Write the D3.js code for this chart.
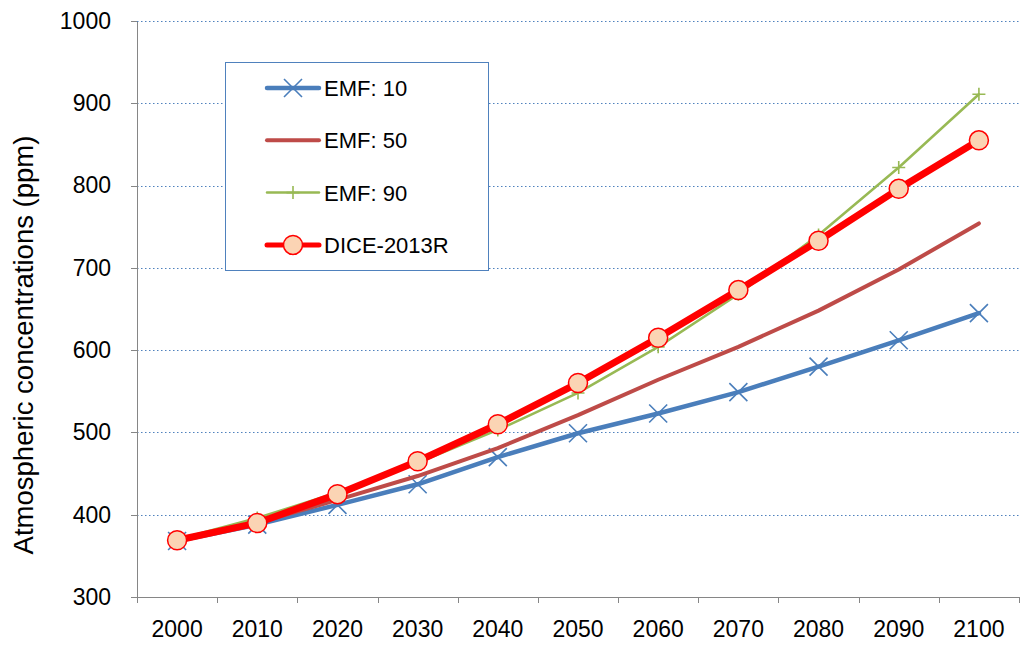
<!DOCTYPE html>
<html>
<meta charset="utf-8">
<style>
    body { margin: 0; background: #fff; }
    text { font-family: "Liberation Sans", Arial, sans-serif; fill: #000; }
    .grid line { stroke: #4f81bd; stroke-width: 1; stroke-dasharray: 1.5,2.5; }
    .axis path, .axis line { stroke: #868686; shape-rendering: crispEdges; }
</style>
<body>
<script src="https://cdn.jsdelivr.net/npm/d3@7"></script>
<div id="chart"></div>
<script>
    // data
    var years = ["2000", "2010", "2020", "2030", "2040", "2050", "2060", "2070", "2080", "2090", "2100"];
    var emf10 = [368, 388, 412, 437, 470, 499, 523, 549, 580, 612, 645];
    var emf50 = [370, 390, 418, 447, 481, 521, 564, 604, 648, 698, 754];
    var emf90 = [370, 396, 427, 463, 503, 548, 604, 668, 740, 822, 911];
    var dice = [369, 390, 425, 465, 510, 560, 615, 673, 733, 796, 855];
    var yTicks = [300, 400, 500, 600, 700, 800, 900, 1000];

    var series = [
        { name: "EMF: 10", values: emf10, color: "#4a7ebb", width: 4.5, marker: "x" },
        { name: "EMF: 50", values: emf50, color: "#be4b48", width: 4, marker: "none" },
        { name: "EMF: 90", values: emf90, color: "#98b954", width: 2.5, marker: "plus" },
        { name: "DICE-2013R", values: dice, color: "#ff0000", width: 7, marker: "circle" }
    ];

    var W = 1021, H = 646;
    var margin = { top: 21, right: 2, bottom: 49, left: 137 };
    var width = W - margin.left - margin.right;
    var height = H - margin.top - margin.bottom;

    var svg = d3.select("#chart").append("svg")
        .attr("width", W).attr("height", H)
        .append("g")
        .attr("transform", "translate(" + margin.left + "," + margin.top + ")");

    var x = d3.scaleBand().domain(years).range([0, width]);
    var y = d3.scaleLinear().domain([300, 1000]).range([height, 0]);
    var xc = function (i) { return x(years[i]) + x.bandwidth() / 2; };

    // gridlines
    svg.append("g").attr("class", "grid")
        .selectAll("line").data(yTicks.slice(1)).enter().append("line")
        .attr("x1", 0).attr("x2", width)
        .attr("y1", function (d) { return Math.round(y(d)) + 0.5; })
        .attr("y2", function (d) { return Math.round(y(d)) + 0.5; });

    // y axis
    var yAxis = svg.append("g").attr("class", "axis")
        .call(d3.axisLeft(y).tickValues(yTicks).tickFormat(d3.format("d"))
            .tickSize(6).tickSizeOuter(0).tickPadding(20));
    yAxis.selectAll("text").style("font-size", "23px");

    // x axis, ticks at band edges
    var xAxis = svg.append("g").attr("class", "axis")
        .attr("transform", "translate(0," + height + ")")
        .call(d3.axisBottom(x).tickSize(0).tickPadding(24));
    xAxis.selectAll("text").style("font-size", "23px");
    xAxis.selectAll(".edge").data(d3.range(years.length + 1)).enter().append("line")
        .attr("class", "edge")
        .attr("x1", function (i) { return Math.round(i * x.bandwidth()) + 0.5; })
        .attr("x2", function (i) { return Math.round(i * x.bandwidth()) + 0.5; })
        .attr("y1", 0).attr("y2", 6);

    // y title
    svg.append("text")
        .attr("transform", "translate(" + (-104) + "," + (345 - margin.top) + ") rotate(-90)")
        .attr("text-anchor", "middle")
        .style("font-size", "27.5px")
        .text("Atmospheric concentrations (ppm)");

    var line = d3.line()
        .x(function (d, i) { return xc(i); })
        .y(function (d) { return y(d); });

    function drawMarker(g, s, cx, cy) {
        if (s.marker === "x") {
            var r = 9;
            g.append("path")
                .attr("d", "M" + (cx - r) + "," + (cy - r) + "L" + (cx + r) + "," + (cy + r) +
                           "M" + (cx - r) + "," + (cy + r) + "L" + (cx + r) + "," + (cy - r))
                .attr("stroke", s.color).attr("stroke-width", 1.6).attr("fill", "none");
        } else if (s.marker === "plus") {
            var p = 6.5;
            g.append("path")
                .attr("d", "M" + (cx - p) + "," + cy + "L" + (cx + p) + "," + cy +
                           "M" + cx + "," + (cy - p) + "L" + cx + "," + (cy + p))
                .attr("stroke", s.color).attr("stroke-width", 1.6).attr("fill", "none");
        } else if (s.marker === "circle") {
            g.append("circle")
                .attr("cx", cx).attr("cy", cy).attr("r", 9.5)
                .attr("fill", "#fbd4b4").attr("stroke", "#ff0000").attr("stroke-width", 1.5);
        }
    }

    series.forEach(function (s) {
        var g = svg.append("g");
        g.append("path")
            .datum(s.values)
            .attr("d", line)
            .attr("fill", "none")
            .attr("stroke", s.color)
            .attr("stroke-width", s.width)
            .attr("stroke-linejoin", "round")
            .attr("stroke-linecap", "round");
        s.values.forEach(function (v, i) { drawMarker(g, s, xc(i), y(v)); });
    });

    // legend
    var lg = svg.append("g").attr("transform", "translate(" + (225 - margin.left) + "," + (62 - margin.top) + ")");
    lg.append("rect")
        .attr("x", 0.5).attr("y", 0.5).attr("width", 263).attr("height", 208)
        .attr("fill", "#fff").attr("stroke", "#4f81bd").attr("stroke-width", 1);
    series.forEach(function (s, i) {
        var ry = 26 + i * 52.3;
        var row = lg.append("g");
        row.append("line")
            .attr("x1", 42).attr("x2", 94).attr("y1", ry).attr("y2", ry)
            .attr("stroke", s.color).attr("stroke-width", s.width > 5 ? 5 : s.width)
            .attr("stroke-linecap", "round");
        drawMarker(row, s, 68, ry);
        row.append("text")
            .attr("x", 99).attr("y", ry + 8)
            .style("font-size", "22px")
            .text(s.name);
    });
</script>
</body>
</html>
